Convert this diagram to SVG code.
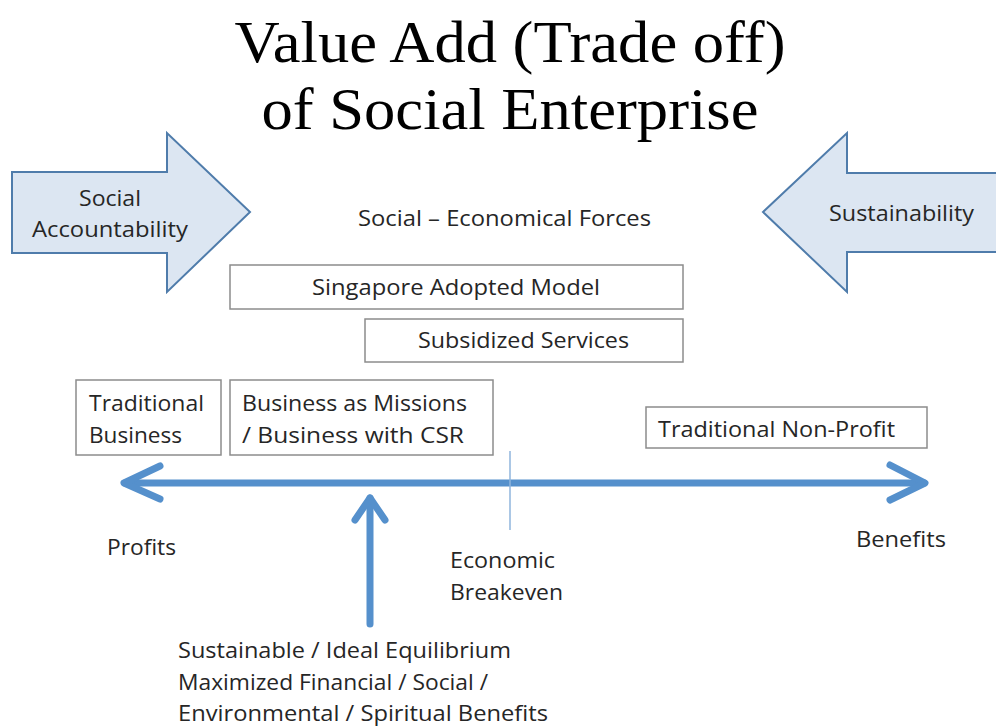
<svg xmlns="http://www.w3.org/2000/svg" width="996" height="726" viewBox="0 0 996 726">
  <style>
    .title { font-family: "Liberation Serif", "DejaVu Serif", serif; font-size: 60px; fill: #000; }
    .lbl { font-family: "Open Sans", "Liberation Sans", sans-serif; font-size: 21px; fill: #262626; }
    .box { fill: #fff; stroke: #8c8c8c; stroke-width: 1.5; }
    .force { fill: #dce6f2; stroke: #4f7cab; stroke-width: 2; stroke-linejoin: miter; }
    .axis { fill: none; stroke: #5590cc; stroke-width: 7; stroke-linecap: round; stroke-linejoin: round; }
    .tick { stroke: #8fb4dc; stroke-width: 1.5; }
  </style>

  <!-- title -->
  <g id="title">
    <text class="title" x="510" y="62" text-anchor="middle" textLength="551" lengthAdjust="spacingAndGlyphs">Value Add (Trade off)</text>
    <text class="title" x="510" y="129" text-anchor="middle" textLength="497" lengthAdjust="spacingAndGlyphs">of Social Enterprise</text>
  </g>

  <!-- opposing forces -->
  <g id="social-accountability">
    <path class="force" d="M12,172 H167 V133 L250,212 L167,292 V253 H12 Z"/>
    <text class="lbl" x="110" y="206" text-anchor="middle" textLength="62" lengthAdjust="spacingAndGlyphs">Social</text>
    <text class="lbl" x="110" y="237" text-anchor="middle" textLength="156" lengthAdjust="spacingAndGlyphs">Accountability</text>
  </g>
  <g id="sustainability">
    <path class="force" d="M1000,173 H847 V133 L763,212 L847,292 V252 H1000 Z"/>
    <text class="lbl" x="829" y="221" textLength="145" lengthAdjust="spacingAndGlyphs">Sustainability</text>
  </g>
  <g id="forces-label">
    <text class="lbl" x="358" y="226" textLength="293" lengthAdjust="spacingAndGlyphs">Social – Economical Forces</text>
  </g>

  <!-- models -->
  <g id="singapore-model">
    <rect class="box" x="230" y="265" width="453" height="44"/>
    <text class="lbl" x="312" y="295" textLength="288" lengthAdjust="spacingAndGlyphs">Singapore Adopted Model</text>
  </g>
  <g id="subsidized-services">
    <rect class="box" x="365" y="319" width="318" height="43"/>
    <text class="lbl" x="418" y="348" textLength="211" lengthAdjust="spacingAndGlyphs">Subsidized Services</text>
  </g>
  <g id="traditional-business">
    <rect class="box" x="76" y="380" width="145" height="75"/>
    <text class="lbl" x="89" y="411" textLength="115" lengthAdjust="spacingAndGlyphs">Traditional</text>
    <text class="lbl" x="89" y="443" textLength="93" lengthAdjust="spacingAndGlyphs">Business</text>
  </g>
  <g id="business-missions">
    <rect class="box" x="230" y="380" width="263" height="75"/>
    <text class="lbl" x="242" y="411" textLength="225" lengthAdjust="spacingAndGlyphs">Business as Missions</text>
    <text class="lbl" x="242" y="443" textLength="222" lengthAdjust="spacingAndGlyphs">/ Business with CSR</text>
  </g>
  <g id="traditional-nonprofit">
    <rect class="box" x="646" y="407" width="281" height="41"/>
    <text class="lbl" x="658" y="437" textLength="237" lengthAdjust="spacingAndGlyphs">Traditional Non-Profit</text>
  </g>

  <!-- spectrum axis and pointers -->
  <g id="connectors">
    <line class="axis" x1="125" y1="483" x2="924" y2="483"/>
    <polyline class="axis" points="160,466 124,483 160,499"/>
    <polyline class="axis" points="890,465 925,483 890,500"/>
    <line class="axis" x1="370" y1="624" x2="370" y2="498"/>
    <polyline class="axis" points="355,520 370,498 385,520"/>
    <line class="tick" x1="510" y1="451" x2="510" y2="530"/>
  </g>

  <!-- axis annotations -->
  <g id="profits">
    <text class="lbl" x="107" y="555" textLength="69" lengthAdjust="spacingAndGlyphs">Profits</text>
  </g>
  <g id="benefits">
    <text class="lbl" x="856" y="547" textLength="90" lengthAdjust="spacingAndGlyphs">Benefits</text>
  </g>
  <g id="breakeven">
    <text class="lbl" x="450" y="568" textLength="105" lengthAdjust="spacingAndGlyphs">Economic</text>
    <text class="lbl" x="450" y="600" textLength="113" lengthAdjust="spacingAndGlyphs">Breakeven</text>
  </g>
  <g id="equilibrium">
    <text class="lbl" x="178" y="658" textLength="333" lengthAdjust="spacingAndGlyphs">Sustainable / Ideal Equilibrium</text>
    <text class="lbl" x="178" y="690" textLength="310" lengthAdjust="spacingAndGlyphs">Maximized Financial / Social /</text>
    <text class="lbl" x="178" y="721" textLength="370" lengthAdjust="spacingAndGlyphs">Environmental / Spiritual Benefits</text>
  </g>
</svg>
